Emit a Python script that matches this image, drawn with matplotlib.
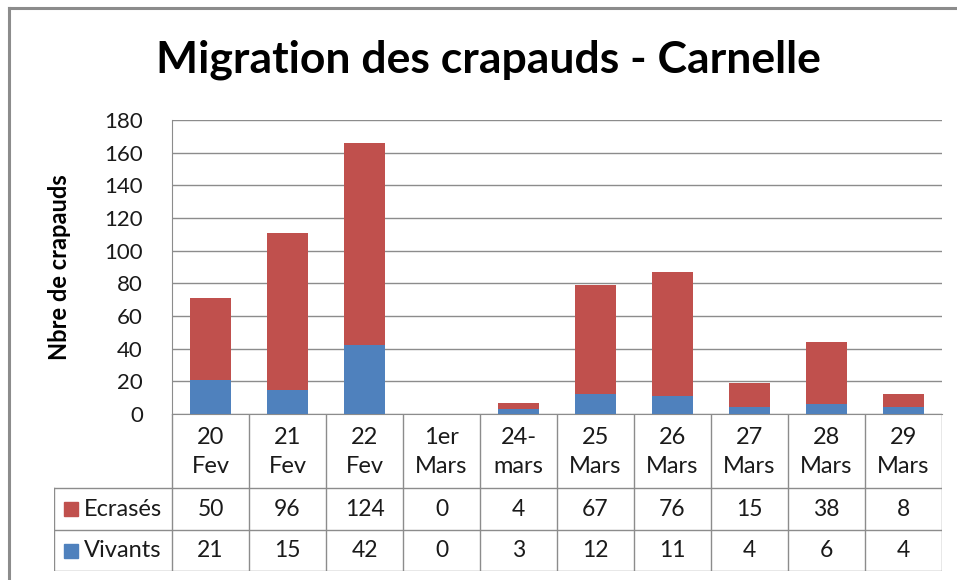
import matplotlib
matplotlib.use("Agg")
import matplotlib.pyplot as plt
from matplotlib.lines import Line2D
from matplotlib.patches import Rectangle
import numpy as np

categories = ["20\nFev", "21\nFev", "22\nFev", "1er\nMars", "24-\nmars", "25\nMars",
              "26\nMars", "27\nMars", "28\nMars", "29\nMars"]
ecrases = [50, 96, 124, 0, 4, 67, 76, 15, 38, 8]
vivants = [21, 15, 42, 0, 3, 12, 11, 4, 6, 4]
series_names = ["Ecrasés", "Vivants"]
title = "Migration des crapauds - Carnelle"
ylabel = "Nbre de crapauds"
yticks = [0, 20, 40, 60, 80, 100, 120, 140, 160, 180]

RED = "#C0504D"
BLUE = "#4F81BD"
GRID = "#8C8C8C"
TXT = "#1a1a1a"
FONT = ["Lato", "DejaVu Sans"]
plt.rcParams["font.family"] = FONT

W, H = 957, 580
fig = plt.figure(figsize=(W / 100, H / 100), dpi=100)

def fx(px):
    return px / W

def fy(py):
    return 1 - py / H

# plot area in pixels
L, R, T, B = 172, 942, 120, 414
ax = fig.add_axes([fx(L), fy(B), fx(R - L), (B - T) / H])
x = np.arange(len(categories))
ax.bar(x, vivants, width=0.52, color=BLUE, zorder=3)
ax.bar(x, ecrases, width=0.52, bottom=vivants, color=RED, zorder=3)
ax.set_xlim(-0.5, len(categories) - 0.5)
ax.set_ylim(0, 180)
ax.set_yticks(yticks)
ax.set_yticklabels([str(v) for v in yticks], fontsize=16, color=TXT)
ax.tick_params(axis="y", length=0, pad=21)
ax.set_xticks([])
ax.grid(axis="y", color=GRID, linewidth=1, zorder=0)
for s in ["top", "right"]:
    ax.spines[s].set_visible(False)
ax.spines["left"].set_color(GRID)
ax.spines["bottom"].set_color(GRID)

# data table
TL, TB = 54, 571
rows_y = [414, 488, 530, 571]
tax = fig.add_axes([fx(TL), fy(TB), fx(R - TL), (TB - B) / H])
x0 = -0.5 - (L - TL) / 77.0
tax.set_xlim(x0, len(categories) - 0.5)
tax.set_ylim(TB, B)
tax.axis("off")

def px2x(px):
    return x0 + (px - TL) / 77.0

lc = dict(color=GRID, linewidth=1)
for i in range(len(categories) + 1):
    tax.plot([i - 0.5, i - 0.5], [B, TB], **lc)
tax.plot([x0, x0], [rows_y[1], TB], **lc)
for yy in rows_y[1:]:
    tax.plot([x0, len(categories) - 0.5], [yy, yy], **lc)

for i, c in enumerate(categories):
    tax.text(i, (rows_y[0] + rows_y[1]) / 2 + 1, c, ha="center", va="center",
             fontsize=17, linespacing=1.45, color=TXT)
    tax.text(i, (rows_y[1] + rows_y[2]) / 2, str(ecrases[i]), ha="center",
             va="center", fontsize=16.5, color=TXT)
    tax.text(i, (rows_y[2] + rows_y[3]) / 2, str(vivants[i]), ha="center",
             va="center", fontsize=16.5, color=TXT)

for k, (name, col) in enumerate(zip(series_names, [RED, BLUE])):
    yc = (rows_y[k + 1] + rows_y[k + 2]) / 2
    tax.add_patch(Rectangle((px2x(64), yc - 7), 14 / 77.0, 14, color=col))
    tax.text(px2x(84), yc, name, ha="left", va="center", fontsize=17,
             color=TXT)

# title and y label
fig.text(fx(488), fy(60), title, ha="center", va="center", fontsize=32,
         fontweight="bold")
fig.text(fx(60), fy(267), ylabel, ha="center", va="center", fontsize=17,
         fontweight="bold", rotation=90)

# outer frame
fig.add_artist(Line2D([fx(9), 1], [fy(8), fy(8)], color="#8C8C8C", linewidth=2.2))
fig.add_artist(Line2D([fx(9), fx(9)], [fy(8), 0], color="#8C8C8C", linewidth=2.2))

fig.savefig("out.png", dpi=100)
